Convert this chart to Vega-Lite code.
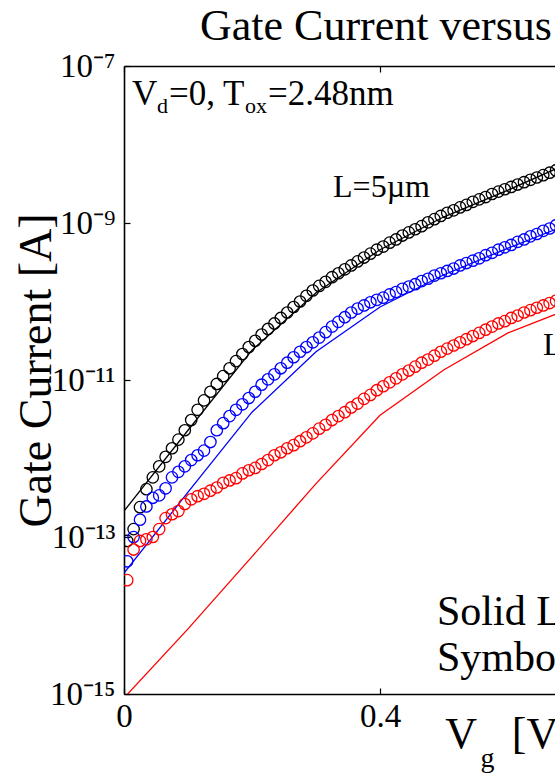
{
  "$schema": "https://vega.github.io/schema/vega-lite/v6.json",
  "width": 431,
  "height": 628,
  "autosize": {"type": "none"},
  "padding": {"left": 124, "top": 66, "right": 0, "bottom": 85},
  "background": "#ffffff",
  "config": {
    "view": {"stroke": null},
    "font": "Liberation Serif",
    "axis": {"grid": false, "domainColor": "#000000", "domainWidth": 1.6, "tickColor": "#000000", "tickWidth": 1.2, "labelColor": "#000000", "labelFont": "Liberation Serif", "titleFont": "Liberation Serif", "titleFontWeight": "normal", "titleColor": "#000000"}
  },
  "title": {"text": "Gate Current versus Gate Voltage", "anchor": "start", "frame": "group", "dx": 76, "fontSize": 44, "font": "Liberation Serif", "fontWeight": "normal", "color": "#000000", "offset": 1},
  "datasets": {
    "meas": [
      {"v":0.005,"L5um":8.91e-14,"Lmid":4.90e-14,"Lshort":2.82e-14},
      {"v":0.015,"L5um":1.26e-13,"Lmid":1.00e-13,"Lshort":6.92e-14},
      {"v":0.025,"L5um":2.40e-13,"Lmid":1.66e-13,"Lshort":8.91e-14},
      {"v":0.035,"L5um":4.07e-13,"Lmid":2.45e-13,"Lshort":9.33e-14},
      {"v":0.045,"L5um":5.75e-13,"Lmid":3.16e-13,"Lshort":1.00e-13},
      {"v":0.055,"L5um":7.94e-13,"Lmid":3.39e-13,"Lshort":1.26e-13},
      {"v":0.065,"L5um":1.05e-12,"Lmid":4.17e-13,"Lshort":1.74e-13},
      {"v":0.075,"L5um":1.35e-12,"Lmid":5.75e-13,"Lshort":1.95e-13},
      {"v":0.085,"L5um":1.74e-12,"Lmid":6.76e-13,"Lshort":2.14e-13},
      {"v":0.095,"L5um":2.29e-12,"Lmid":7.94e-13,"Lshort":2.63e-13},
      {"v":0.105,"L5um":3.09e-12,"Lmid":9.55e-13,"Lshort":3.02e-13},
      {"v":0.115,"L5um":4.17e-12,"Lmid":1.10e-12,"Lshort":3.31e-13},
      {"v":0.125,"L5um":5.50e-12,"Lmid":1.26e-12,"Lshort":3.55e-13},
      {"v":0.135,"L5um":7.08e-12,"Lmid":1.62e-12,"Lshort":3.89e-13},
      {"v":0.145,"L5um":8.91e-12,"Lmid":2.29e-12,"Lshort":4.27e-13},
      {"v":0.155,"L5um":1.12e-11,"Lmid":2.82e-12,"Lshort":4.90e-13},
      {"v":0.165,"L5um":1.41e-11,"Lmid":3.47e-12,"Lshort":5.25e-13},
      {"v":0.175,"L5um":1.74e-11,"Lmid":4.17e-12,"Lshort":5.62e-13},
      {"v":0.185,"L5um":2.14e-11,"Lmid":4.90e-12,"Lshort":6.46e-13},
      {"v":0.195,"L5um":2.63e-11,"Lmid":5.89e-12,"Lshort":7.08e-13},
      {"v":0.205,"L5um":3.16e-11,"Lmid":7.08e-12,"Lshort":7.59e-13},
      {"v":0.215,"L5um":3.80e-11,"Lmid":8.71e-12,"Lshort":8.51e-13},
      {"v":0.225,"L5um":4.47e-11,"Lmid":1.02e-11,"Lshort":9.55e-13},
      {"v":0.235,"L5um":5.25e-11,"Lmid":1.18e-11,"Lshort":1.10e-12},
      {"v":0.245,"L5um":6.17e-11,"Lmid":1.41e-11,"Lshort":1.20e-12},
      {"v":0.255,"L5um":7.24e-11,"Lmid":1.66e-11,"Lshort":1.35e-12},
      {"v":0.265,"L5um":8.51e-11,"Lmid":1.95e-11,"Lshort":1.48e-12},
      {"v":0.275,"L5um":1.00e-10,"Lmid":2.29e-11,"Lshort":1.66e-12},
      {"v":0.285,"L5um":1.18e-10,"Lmid":2.63e-11,"Lshort":1.86e-12},
      {"v":0.295,"L5um":1.38e-10,"Lmid":3.02e-11,"Lshort":2.09e-12},
      {"v":0.305,"L5um":1.58e-10,"Lmid":3.47e-11,"Lshort":2.40e-12},
      {"v":0.315,"L5um":1.78e-10,"Lmid":4.07e-11,"Lshort":2.69e-12},
      {"v":0.325,"L5um":2.04e-10,"Lmid":4.79e-11,"Lshort":3.09e-12},
      {"v":0.335,"L5um":2.29e-10,"Lmid":5.50e-11,"Lshort":3.47e-12},
      {"v":0.345,"L5um":2.57e-10,"Lmid":6.31e-11,"Lshort":3.89e-12},
      {"v":0.355,"L5um":2.88e-10,"Lmid":7.24e-11,"Lshort":4.47e-12},
      {"v":0.365,"L5um":3.24e-10,"Lmid":8.13e-11,"Lshort":5.01e-12},
      {"v":0.375,"L5um":3.63e-10,"Lmid":8.91e-11,"Lshort":5.75e-12},
      {"v":0.385,"L5um":4.07e-10,"Lmid":9.77e-11,"Lshort":6.46e-12},
      {"v":0.395,"L5um":4.57e-10,"Lmid":1.05e-10,"Lshort":7.41e-12},
      {"v":0.405,"L5um":5.01e-10,"Lmid":1.12e-10,"Lshort":8.32e-12},
      {"v":0.415,"L5um":5.62e-10,"Lmid":1.23e-10,"Lshort":9.33e-12},
      {"v":0.425,"L5um":6.17e-10,"Lmid":1.32e-10,"Lshort":1.05e-11},
      {"v":0.435,"L5um":6.92e-10,"Lmid":1.45e-10,"Lshort":1.18e-11},
      {"v":0.445,"L5um":7.59e-10,"Lmid":1.55e-10,"Lshort":1.32e-11},
      {"v":0.455,"L5um":8.32e-10,"Lmid":1.66e-10,"Lshort":1.48e-11},
      {"v":0.465,"L5um":9.12e-10,"Lmid":1.82e-10,"Lshort":1.66e-11},
      {"v":0.475,"L5um":1.02e-9,"Lmid":1.95e-10,"Lshort":1.82e-11},
      {"v":0.485,"L5um":1.12e-9,"Lmid":2.14e-10,"Lshort":2.04e-11},
      {"v":0.495,"L5um":1.23e-9,"Lmid":2.29e-10,"Lshort":2.29e-11},
      {"v":0.505,"L5um":1.35e-9,"Lmid":2.45e-10,"Lshort":2.51e-11},
      {"v":0.515,"L5um":1.45e-9,"Lmid":2.63e-10,"Lshort":2.75e-11},
      {"v":0.525,"L5um":1.58e-9,"Lmid":2.88e-10,"Lshort":3.02e-11},
      {"v":0.535,"L5um":1.70e-9,"Lmid":3.09e-10,"Lshort":3.31e-11},
      {"v":0.545,"L5um":1.86e-9,"Lmid":3.31e-10,"Lshort":3.63e-11},
      {"v":0.555,"L5um":2.00e-9,"Lmid":3.55e-10,"Lshort":3.98e-11},
      {"v":0.565,"L5um":2.14e-9,"Lmid":3.89e-10,"Lshort":4.37e-11},
      {"v":0.575,"L5um":2.34e-9,"Lmid":4.17e-10,"Lshort":4.79e-11},
      {"v":0.585,"L5um":2.51e-9,"Lmid":4.57e-10,"Lshort":5.25e-11},
      {"v":0.595,"L5um":2.69e-9,"Lmid":4.90e-10,"Lshort":5.62e-11},
      {"v":0.605,"L5um":2.88e-9,"Lmid":5.25e-10,"Lshort":6.17e-11},
      {"v":0.615,"L5um":3.09e-9,"Lmid":5.75e-10,"Lshort":6.61e-11},
      {"v":0.625,"L5um":3.31e-9,"Lmid":6.17e-10,"Lshort":7.24e-11},
      {"v":0.635,"L5um":3.55e-9,"Lmid":6.76e-10,"Lshort":7.76e-11},
      {"v":0.645,"L5um":3.80e-9,"Lmid":7.24e-10,"Lshort":8.32e-11},
      {"v":0.655,"L5um":4.07e-9,"Lmid":7.94e-10,"Lshort":8.91e-11},
      {"v":0.665,"L5um":4.37e-9,"Lmid":8.51e-10,"Lshort":9.55e-11},
      {"v":0.675,"L5um":4.68e-9,"Lmid":9.33e-10,"Lshort":1.02e-10}
    ],
    "sim": [
      {"v":0.0,"L5um":2.14e-13,"Lmid":3.47e-14,"Lshort":8.91e-16},
      {"v":0.1,"L5um":2.29e-12,"Lmid":3.72e-13,"Lshort":6.76e-15},
      {"v":0.2,"L5um":2.40e-11,"Lmid":3.89e-12,"Lshort":5.62e-14},
      {"v":0.3,"L5um":1.29e-10,"Lmid":2.29e-11,"Lshort":4.79e-13},
      {"v":0.4,"L5um":4.57e-10,"Lmid":8.51e-11,"Lshort":3.55e-12},
      {"v":0.5,"L5um":1.20e-9,"Lmid":2.19e-10,"Lshort":1.35e-11},
      {"v":0.6,"L5um":2.63e-9,"Lmid":4.79e-10,"Lshort":3.98e-11},
      {"v":0.7,"L5um":6.03e-9,"Lmid":1.00e-9,"Lshort":8.32e-11}
    ]
  },
  "layer": [
    {
      "layer": [
        {
          "data": {"name": "sim"},
          "transform": [{"fold": ["L5um", "Lmid", "Lshort"], "as": ["s", "I"]}],
          "mark": {"type": "line", "strokeWidth": 1.3, "clip": true},
          "encoding": {
            "x": {"field": "v", "type": "quantitative", "scale": {"domain": [0, 0.6734], "nice": false, "zero": false},
                  "axis": {"orient": "bottom", "values": [0, 0.4], "format": "~g", "labelFontSize": 33, "labelFlush": false, "labelBound": false, "tickSize": -6, "labelPadding": 12, "title": null, "domain": true}},
            "y": {"field": "I", "type": "quantitative", "scale": {"type": "log", "domain": [1e-15, 1e-7], "nice": false},
                  "axis": {"orient": "left", "values": [1e-15, 1e-13, 1e-11, 1e-9, 1e-7], "labelExpr": "round(log(datum.value)/LN10) == -7 ? '10⁻⁷' : round(log(datum.value)/LN10) == -9 ? '10⁻⁹' : round(log(datum.value)/LN10) == -11 ? '10⁻¹¹' : round(log(datum.value)/LN10) == -13 ? '10⁻¹³' : '10⁻¹⁵'", "labelFontSize": 33, "tickSize": -6, "labelPadding": 15, "labelBound": false, "labelFlush": false, "title": "Gate Current [A]", "titleFontSize": 46, "titleX": -74, "titleY": 304, "titleAngle": -90, "titleBaseline": "alphabetic", "titleAlign": "center", "domain": true}},
            "color": {"field": "s", "type": "nominal", "scale": {"domain": ["L5um", "Lmid", "Lshort"], "range": ["#000000", "#0000ff", "#ff0000"]}, "legend": null}
          }
        },
        {"data": {"values": [{}]}, "mark": {"type": "text", "text": "V", "align": "left", "baseline": "alphabetic", "fontSize": 35, "font": "Liberation Serif", "color": "#000000"},
         "encoding": {"x": {"datum": 0.0125, "type": "quantitative"}, "y": {"datum": 3.19e-8, "type": "quantitative"}}},
        {"data": {"values": [{}]}, "mark": {"type": "text", "text": "d", "align": "left", "baseline": "alphabetic", "fontSize": 22, "font": "Liberation Serif", "color": "#000000"},
         "encoding": {"x": {"datum": 0.0516, "type": "quantitative"}, "y": {"datum": 2.52e-8, "type": "quantitative"}}},
        {"data": {"values": [{}]}, "mark": {"type": "text", "text": "=0, T", "align": "left", "baseline": "alphabetic", "fontSize": 35, "font": "Liberation Serif", "color": "#000000"},
         "encoding": {"x": {"datum": 0.0703, "type": "quantitative"}, "y": {"datum": 3.19e-8, "type": "quantitative"}}},
        {"data": {"values": [{}]}, "mark": {"type": "text", "text": "ox", "align": "left", "baseline": "alphabetic", "fontSize": 22, "font": "Liberation Serif", "color": "#000000"},
         "encoding": {"x": {"datum": 0.189, "type": "quantitative"}, "y": {"datum": 2.52e-8, "type": "quantitative"}}},
        {"data": {"values": [{}]}, "mark": {"type": "text", "text": "=2.48nm", "align": "left", "baseline": "alphabetic", "fontSize": 35, "font": "Liberation Serif", "color": "#000000"},
         "encoding": {"x": {"datum": 0.225, "type": "quantitative"}, "y": {"datum": 3.19e-8, "type": "quantitative"}}},
        {"data": {"values": [{}]}, "mark": {"type": "text", "text": "L=5µm", "align": "left", "baseline": "alphabetic", "fontSize": 32, "font": "Liberation Serif", "color": "#000000"},
         "encoding": {"x": {"datum": 0.3266, "type": "quantitative"}, "y": {"datum": 2.14e-9, "type": "quantitative"}}},
        {"data": {"values": [{}]}, "mark": {"type": "text", "text": "L=0.1µm", "align": "left", "baseline": "alphabetic", "fontSize": 32, "font": "Liberation Serif", "color": "#000000"},
         "encoding": {"x": {"datum": 0.6547, "type": "quantitative"}, "y": {"datum": 2.1e-11, "type": "quantitative"}}},
        {"data": {"values": [{}]}, "mark": {"type": "text", "text": "Solid Lines: Simulation", "align": "left", "baseline": "alphabetic", "fontSize": 42, "font": "Liberation Serif", "color": "#000000"},
         "encoding": {"x": {"datum": 0.489, "type": "quantitative"}, "y": {"datum": 7.57e-15, "type": "quantitative"}}},
        {"data": {"values": [{}]}, "mark": {"type": "text", "text": "Symbols: Measurement", "align": "left", "baseline": "alphabetic", "fontSize": 42, "font": "Liberation Serif", "color": "#000000"},
         "encoding": {"x": {"datum": 0.489, "type": "quantitative"}, "y": {"datum": 1.96e-15, "type": "quantitative"}}},
        {"data": {"values": [{}]}, "mark": {"type": "text", "text": "V", "align": "left", "baseline": "alphabetic", "fontSize": 44, "font": "Liberation Serif", "color": "#000000"},
         "encoding": {"x": {"datum": 0.502, "type": "quantitative"}, "y": {"datum": 2.05e-16, "type": "quantitative"}}},
        {"data": {"values": [{}]}, "mark": {"type": "text", "text": "g", "align": "left", "baseline": "alphabetic", "fontSize": 28, "font": "Liberation Serif", "color": "#000000"},
         "encoding": {"x": {"datum": 0.557, "type": "quantitative"}, "y": {"datum": 1.17e-16, "type": "quantitative"}}},
        {"data": {"values": [{}]}, "mark": {"type": "text", "text": "[V]", "align": "left", "baseline": "alphabetic", "fontSize": 44, "font": "Liberation Serif", "color": "#000000"},
         "encoding": {"x": {"datum": 0.606, "type": "quantitative"}, "y": {"datum": 2.05e-16, "type": "quantitative"}}}
      ]
    },
    {
      "data": {"name": "meas"},
      "transform": [{"fold": ["L5um", "Lmid", "Lshort"], "as": ["s", "I"]}],
      "mark": {"type": "point", "shape": "circle", "filled": false, "size": 130, "strokeWidth": 1.3, "opacity": 1, "clip": true},
      "encoding": {
        "x": {"field": "v", "type": "quantitative", "scale": {"domain": [0, 0.6734], "nice": false, "zero": false},
              "axis": {"orient": "top", "values": [0, 0.4], "labels": false, "tickSize": -6, "title": null, "domain": true}},
        "y": {"field": "I", "type": "quantitative", "scale": {"type": "log", "domain": [1e-15, 1e-7], "nice": false},
              "axis": {"orient": "left", "values": [1e-15, 1e-13, 1e-11, 1e-9, 1e-7], "labelExpr": "round(log(datum.value)/LN10) == -7 ? '10⁻⁷' : round(log(datum.value)/LN10) == -9 ? '10⁻⁹' : round(log(datum.value)/LN10) == -11 ? '10⁻¹¹' : round(log(datum.value)/LN10) == -13 ? '10⁻¹³' : '10⁻¹⁵'", "labelFontSize": 33, "tickSize": -6, "labelPadding": 15, "labelBound": false, "labelFlush": false, "title": "Gate Current [A]", "titleFontSize": 46, "titleX": -74, "titleY": 304, "titleAngle": -90, "titleBaseline": "alphabetic", "titleAlign": "center", "domain": true}},
        "color": {"field": "s", "type": "nominal", "scale": {"domain": ["L5um", "Lmid", "Lshort"], "range": ["#000000", "#0000ff", "#ff0000"]}, "legend": null}
      }
    }
  ],
  "resolve": {"axis": {"x": "independent"}}
}
